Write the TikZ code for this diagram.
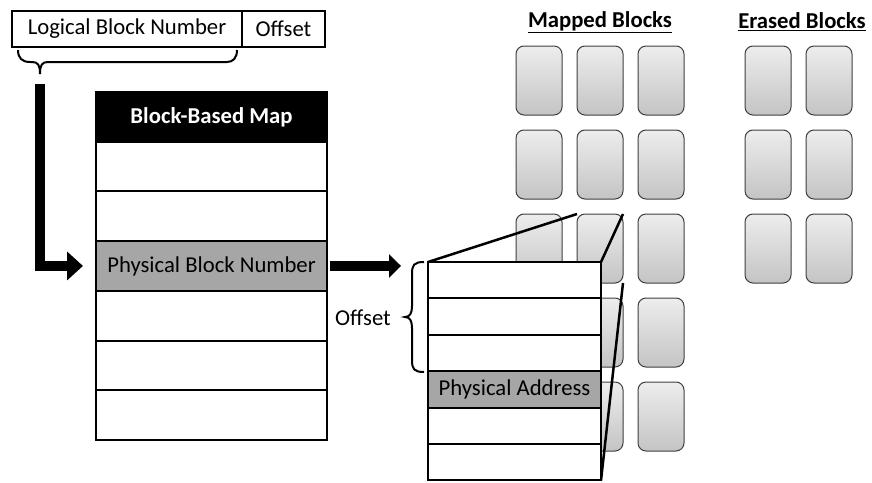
\documentclass[tikz,border=0pt]{standalone}
\usepackage{fontspec}
\setmainfont{Carlito}
\usetikzlibrary{arrows.meta}
\definecolor{rowgray}{HTML}{A6A6A6}
\definecolor{blkedge}{HTML}{3F3F3F}
\definecolor{blktop}{HTML}{EDEDED}
\definecolor{blkbot}{HTML}{C4C4C4}
\pgfdeclarelayer{bg}
\pgfsetlayers{bg,main}
\begin{document}
\begin{tikzpicture}[x=1pt,y=-1pt,
  txt/.style={font=\fontsize{22.7}{26}\selectfont},
  cell/.style={draw=black,line width=2pt,inner sep=0pt,outer sep=0pt,anchor=north west,fill=white,txt},
  maprow/.style={cell,minimum width=231pt,minimum height=49.7pt},
  exprow/.style={cell,minimum width=173pt,minimum height=36.4pt},
  blk/.style={draw=blkedge,line width=1pt,rounded corners=8pt,top color=blktop,bottom color=blkbot,minimum width=46pt,minimum height=69pt,inner sep=0pt,outer sep=0pt,anchor=north west},
  bigarrow/.style={line width=10pt,-{Triangle[width=28pt,length=16pt]}},
  medarrow/.style={line width=10pt,-{Triangle[width=23pt,length=12pt]}},
  projline/.style={line width=2.5pt},
  bracestyle/.style={line width=2pt},
  heading/.style={font=\fontsize{22.7}{26}\selectfont\bfseries}
]
\useasboundingbox (0,0) rectangle (872,482);

% top address box
\node[cell,minimum width=230pt,minimum height=36pt] (lbn) at (12,11) {Logical Block Number};
\node[cell,minimum width=83pt,minimum height=36pt] (off) at (lbn.north east) {Offset};

% brace under logical block number
\draw[bracestyle] (18,50) .. controls (18,58) and (22,62) .. (30,62) -- (32,62)
  .. controls (38,62) and (40,65) .. (40,74)
  .. controls (40,65) and (42,62) .. (48,62) -- (227,62)
  .. controls (233,62) and (237,58) .. (237,50);
\coordinate (a1) at (40,84);

% block-based map
\node[maprow,fill=black,text=white,font=\fontsize{22.7}{26}\selectfont\bfseries] (hdr) at (96,92) {Block-Based Map};
\node[maprow] (r1) at (hdr.south west) {};
\node[maprow] (r2) at (r1.south west) {};
\node[maprow,fill=rowgray] (pbn) at (r2.south west) {Physical Block Number};
\node[maprow] (r4) at (pbn.south west) {};
\node[maprow] (r5) at (r4.south west) {};
\node[maprow] (r6) at (r5.south west) {};

% arrows
\draw[bigarrow] (a1) |- ([xshift=-13pt]pbn.west);
\draw[medarrow] ([xshift=3pt]pbn.east) -- ++(71,0);

% expanded block
\node[exprow] (e1) at (428,262) {};
\node[exprow] (e2) at (e1.south west) {};
\node[exprow] (e3) at (e2.south west) {};
\node[exprow,fill=rowgray] (pa) at (e3.south west) {Physical Address};
\node[exprow] (e5) at (pa.south west) {};
\node[exprow] (e6) at (e5.south west) {};

% offset brace
\draw[bracestyle] (424,262) .. controls (414,262) and (412,265) .. (412,274) -- (412,306)
  .. controls (412,313) and (410,317) .. (405,317)
  .. controls (410,317) and (412,321) .. (412,328) -- (412,360)
  .. controls (412,369) and (414,372) .. (424,372);
\node[txt,anchor=east,inner sep=0pt] (offlbl) at (391,318) {Offset};

% headings
\node[heading] (mh) at (600,22) {\underline{Mapped Blocks}};
\node[heading] (eh) at (802,22) {\underline{Erased Blocks}};

\begin{pgfonlayer}{bg}
\foreach \r in {0,...,4} \foreach \c in {0,1,2}
  \node[blk] (m\r\c) at (516+61*\c,46+84*\r) {};
\foreach \r in {0,1,2} \foreach \c in {0,1}
  \node[blk] (x\r\c) at (745+61*\c,46+84*\r) {};
\draw[projline] (e1.north west) -- (m21.north west);
\draw[projline] (e1.north east) -- (m21.north east);
\draw[projline] (e6.south east) -- (m21.south east);
\end{pgfonlayer}
\end{tikzpicture}
\end{document}
